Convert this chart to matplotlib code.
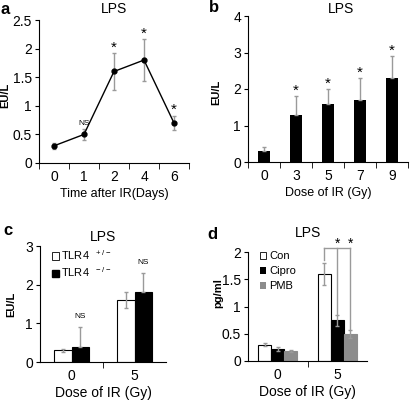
import numpy as np
import matplotlib
matplotlib.use('Agg')
import matplotlib.pyplot as plt
from matplotlib.patches import Patch

plt.rcParams['font.family'] = ['Liberation Sans', 'DejaVu Sans']
plt.rcParams['mathtext.fontset'] = 'custom'
plt.rcParams['mathtext.rm'] = 'Liberation Sans'
plt.rcParams['font.size'] = 9

# panel a - time course
days = ['0', '1', '2', '4', '6']
lps_time = [0.3, 0.5, 1.6, 1.8, 0.7]
lps_time_err = [0.05, 0.1, 0.32, 0.36, 0.13]
marks_time = ['', 'NS', '*', '*', '*']

# panel b - dose response
doses = ['0', '3', '5', '7', '9']
lps_dose = [0.3, 1.3, 1.6, 1.7, 2.3]
lps_dose_err = [0.1, 0.5, 0.4, 0.6, 0.6]
marks_dose = ['', '*', '*', '*', '*']

# panel c - TLR4
doses_c = ['0', '5']
tlr_het = [0.3, 1.6]
tlr_het_err = [0.03, 0.2]
tlr_ko = [0.4, 1.8]
tlr_ko_err = [0.5, 0.5]

# panel d - antibiotics (pg/ml)
doses_d = ['0', '5']
con = [0.3, 1.6]
con_err = [0.03, 0.2]
cipro = [0.22, 0.75]
cipro_err = [0.03, 0.1]
pmb = [0.18, 0.5]
pmb_err = [0.02, 0.07]

gray = '#9a9a9a'
fig = plt.figure(figsize=(4.11, 4.04), dpi=100)

def style(ax, n, ylim, step):
    for s in ['top', 'right']:
        ax.spines[s].set_visible(False)
    ax.set_xlim(-0.5, n - 0.5)
    ax.set_ylim(0, ylim)
    ax.set_yticks(np.arange(0, ylim + 1e-9, step))
    ax.set_xticks(np.arange(-0.5, n, 1.0), minor=True)
    ax.tick_params(axis='x', which='major', length=0, pad=5, labelsize=10)
    ax.tick_params(axis='x', which='minor', length=4, direction='out')
    ax.tick_params(axis='y', length=3, labelsize=10, pad=2)
    ax.yaxis.set_major_formatter(plt.FuncFormatter(lambda v, p: ('%g' % v)))

def title(ax, y, xpos=0.5):
    ax.text(xpos, y, 'LPS', transform=ax.transAxes, ha='center', va='center', fontsize=10)

# a
ax = fig.add_axes([39/411, 1-163/404, 150/411, 143/404])
x = np.arange(len(days))
ax.errorbar(x, lps_time, yerr=lps_time_err, fmt='none', ecolor=gray, elinewidth=1, capsize=1.5)
ax.plot(x, lps_time, '-o', color='black', lw=1, ms=3.5)
for xi, yv, e, m in zip(x, lps_time, lps_time_err, marks_time):
    if m == 'NS':
        ax.annotate(m, (xi, yv + e), xytext=(0, 1), textcoords='offset points', ha='center', va='bottom', fontsize=6)
    elif m:
        ax.annotate(m, (xi, yv + e), xytext=(0, -1), textcoords='offset points', ha='center', va='bottom', fontsize=11)
style(ax, len(days), 2.5, 0.5)
ax.set_xticks(x, days)
ax.set_xlabel('Time after IR(Days)', fontsize=9, labelpad=3)
ax.set_ylabel('EU/L', fontsize=8, fontweight='bold')
ax.yaxis.set_label_coords(-0.19, 0.475)
title(ax, 1.077)

# b
ax = fig.add_axes([248/411, 1-162/404, 160/411, 146/404])
x = np.arange(len(doses))
ax.bar(x, lps_dose, width=0.4, color='black')
ax.errorbar(x, lps_dose, yerr=[np.zeros(len(x)), lps_dose_err], fmt='none', ecolor=gray, elinewidth=1, capsize=1.5)
for xi, yv, e, m in zip(x, lps_dose, lps_dose_err, marks_dose):
    if m:
        ax.annotate(m, (xi, yv + e), xytext=(0, -1), textcoords='offset points', ha='center', va='bottom', fontsize=11)
style(ax, len(doses), 4, 1)
ax.set_xticks(x, doses)
ax.set_xlabel('Dose of IR (Gy)', fontsize=9, labelpad=3)
ax.set_ylabel('EU/L', fontsize=8, fontweight='bold')
ax.yaxis.set_label_coords(-0.17, 0.48)
title(ax, 1.048, 0.58)

# c
ax = fig.add_axes([40/411, 1-362/404, 126/411, 116/404])
x = np.arange(len(doses_c))
w = 0.28
ax.bar(x - w/2, tlr_het, width=w, color='white', edgecolor='black', lw=0.8)
ax.bar(x + w/2, tlr_ko, width=w, color='black', edgecolor='black', lw=0.8)
ax.errorbar(x - w/2, tlr_het, yerr=tlr_het_err, fmt='none', ecolor=gray, elinewidth=1, capsize=1.5)
ax.errorbar(x + w/2, tlr_ko, yerr=[np.zeros(len(x)), tlr_ko_err], fmt='none', ecolor=gray, elinewidth=1, capsize=1.5)
for xi, yv, e in zip(x + w/2, tlr_ko, tlr_ko_err):
    ax.annotate('NS', (xi, yv + e), xytext=(0, 5), textcoords='offset points', ha='center', va='bottom', fontsize=6)
style(ax, len(doses_c), 3, 1)
ax.set_xticks(x, doses_c)
ax.set_xticks([0.5], minor=True)
ax.set_xlabel('Dose of IR (Gy)', fontsize=10, labelpad=2)
ax.set_ylabel('EU/L', fontsize=8, fontweight='bold')
ax.yaxis.set_label_coords(-0.19, 0.5)
handles = [Patch(facecolor='white', edgecolor='black', lw=0.6), Patch(facecolor='black', edgecolor='black')]
ax.legend(handles, [r'TLR4 $^{\ +/-}$', r'TLR4 $^{\ -/-}$'], loc='upper left', frameon=False,
          fontsize=8, handlelength=0.6, handleheight=0.6, handletextpad=0.2, labelspacing=0.3,
          borderaxespad=0.0, bbox_to_anchor=(0.06, 1.02))
title(ax, 1.078)

# d
ax = fig.add_axes([248/411, 1-361/404, 119/411, 109/404])
x = np.arange(len(doses_d))
w = 0.22
ax.bar(x - w, con, width=w, color='white', edgecolor='black', lw=0.8)
ax.bar(x, cipro, width=w, color='black', edgecolor='black', lw=0.8)
ax.bar(x + w, pmb, width=w, color='#8c8c8c', edgecolor='#8c8c8c', lw=0.8)
ax.errorbar(x - w, con, yerr=con_err, fmt='none', ecolor=gray, elinewidth=1, capsize=1.5)
ax.errorbar(x, cipro, yerr=cipro_err, fmt='none', ecolor=gray, elinewidth=1, capsize=1.5)
ax.errorbar(x + w, pmb, yerr=pmb_err, fmt='none', ecolor=gray, elinewidth=1, capsize=1.5)
# significance bracket on the 5 Gy group
bracket_y = 2.07
g = 1
ax.plot([g - w, g + w], [bracket_y, bracket_y], color=gray, lw=1, clip_on=False)
ax.plot([g - w, g - w], [bracket_y, con[g] + con_err[g] + 0.05], color=gray, lw=1, clip_on=False)
ax.plot([g, g], [bracket_y, cipro[g] + cipro_err[g]], color=gray, lw=1, clip_on=False)
ax.plot([g + w, g + w], [bracket_y, pmb[g] + pmb_err[g]], color=gray, lw=1, clip_on=False)
for xi in [g, g + w]:
    ax.annotate('*', (xi, bracket_y), xytext=(0, -2), textcoords='offset points', ha='center', va='bottom',
                fontsize=10, annotation_clip=False)
style(ax, len(doses_d), 2, 0.5)
ax.set_xticks(x, doses_d)
ax.set_xticks([0.5], minor=True)
ax.set_xlabel('Dose of IR (Gy)', fontsize=10, labelpad=2)
ax.set_ylabel('pg/ml', fontsize=8, fontweight='bold')
ax.yaxis.set_label_coords(-0.21, 0.62)
handles = [Patch(facecolor='white', edgecolor='black', lw=0.6), Patch(facecolor='black'), Patch(facecolor='#8c8c8c')]
ax.legend(handles, ['Con', 'Cipro', 'PMB'], loc='upper left', frameon=False,
          fontsize=8, handlelength=0.6, handleheight=0.6, handletextpad=0.3, labelspacing=0.45,
          borderaxespad=0.0, bbox_to_anchor=(0.06, 1.05))
title(ax, 1.174)

for lab, (fx, fy) in zip('abcd', [(5, 10), (214, 8), (8, 231), (212, 235)]):
    fig.text(fx/411, 1 - fy/404, lab, fontsize=12, fontweight='bold', ha='center', va='center')

fig.savefig('out.png', dpi=100)
